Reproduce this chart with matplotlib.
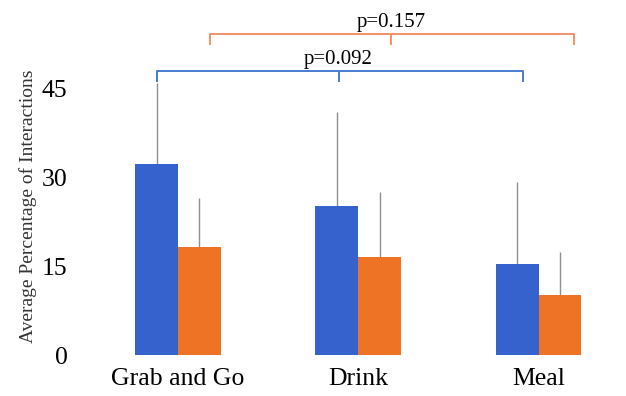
import matplotlib
matplotlib.use('Agg')
import matplotlib.pyplot as plt
import numpy as np

# Average interaction share per context, two groups
categories = ['Grab and Go', 'Drink', 'Meal']
blue_vals = [32.4, 25.2, 15.4]
blue_err = [13.6, 15.9, 13.9]
orange_vals = [18.3, 16.7, 10.2]
orange_err = [8.3, 10.9, 7.3]
y_ticks = [0, 15, 30, 45]
p_blue = 'p=0.092'
p_orange = 'p=0.157'

BLUE = '#3562cc'
ORANGE = '#ee7325'

plt.rcParams['font.family'] = ['Liberation Serif', 'DejaVu Serif']

fig = plt.figure(figsize=(6.26, 3.96), dpi=100)
ax = fig.add_axes([0.1278, 0.1023, 0.8722, 0.8977])

x = np.arange(len(categories))
w = 0.238
xb = x - w / 2
xo = x + w / 2

ax.bar(xb, blue_vals, w, color=BLUE, zorder=2)
ax.bar(xo, orange_vals, w, color=ORANGE, zorder=2)

# upper error only, thin grey lines without caps
ax.errorbar(xb, blue_vals, yerr=[np.zeros(3), blue_err], fmt='none',
            ecolor='#8f8f8f', elinewidth=1, capsize=0, zorder=1)
ax.errorbar(xo, orange_vals, yerr=[np.zeros(3), orange_err], fmt='none',
            ecolor='#8f8f8f', elinewidth=1, capsize=0, zorder=1)


def bracket(xs, y, drop, color, label):
    ax.plot([xs[0], xs[0], xs[2], xs[2]], [y - drop, y, y, y - drop],
            color=color, lw=1.4, clip_on=False)
    ax.plot([xs[1], xs[1]], [y, y - drop], color=color, lw=1.4, clip_on=False)
    ax.text(xs[1], y + 0.35, label, ha='center', va='bottom', fontsize=15)


bracket(xb + np.array([0.005, 0.01, 0.03]), 48.0, 1.6, '#4a7bd0', p_blue)
bracket(xo + np.array([0.06, 0.065, 0.08]), 54.3, 1.7, '#f4926a', p_orange)

ax.set_xlim(-0.5435, 2.485)
ax.set_ylim(0, 60)
ax.set_yticks(y_ticks)
ax.set_xticks(x)
ax.set_xticklabels(categories)
ax.tick_params(axis='both', length=0, labelsize=18.5)
ax.tick_params(axis='y', pad=9)
ax.tick_params(axis='x', pad=9)
for s in ax.spines.values():
    s.set_visible(False)

fig.text(28 / 626, 1 - 206 / 396, 'Average Percentage of Interactions',
         rotation=90, ha='center', va='center', fontsize=14, color='#333333')

fig.savefig('out.png', dpi=100)
